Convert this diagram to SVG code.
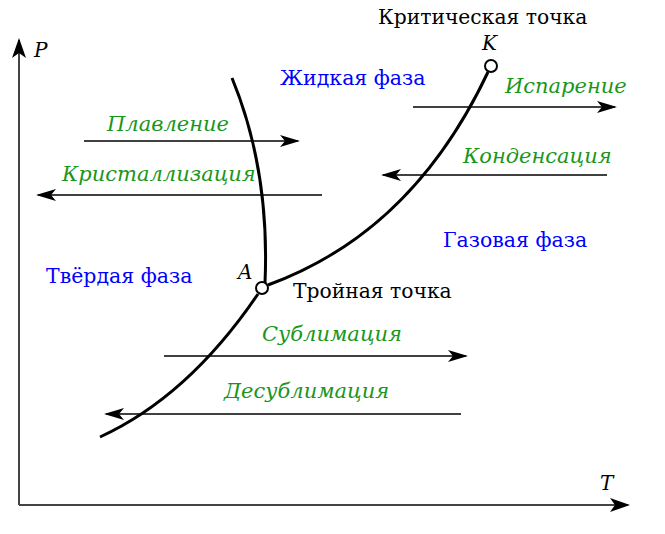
<svg xmlns="http://www.w3.org/2000/svg" width="665" height="534" viewBox="0 0 665 534">
<style>
.ax{stroke:#444;stroke-width:2;fill:none}
.cv{stroke:#000;stroke-width:3;fill:none}
.ar{stroke:#000;stroke-width:1.6;fill:none}
.pt{fill:#fff;stroke:#000;stroke-width:2}
.ph{font-family:"DejaVu Serif",serif;font-size:20.5px;fill:#0000ff}
.pr{font-family:"DejaVu Serif",serif;font-style:italic;font-size:21px;fill:#1a961a}
.lb{font-family:"DejaVu Serif",serif;font-size:20.3px;fill:#000}
.it{font-family:"DejaVu Serif",serif;font-style:italic;font-size:20px;fill:#000}
</style>
<defs>
<marker id="ah" viewBox="0 0 20 12" refX="18" refY="6" markerWidth="20" markerHeight="12" markerUnits="userSpaceOnUse" orient="auto">
<path d="M0,0 L20,6 L0,12 L5,6 Z" fill="#000"/>
</marker>
<marker id="axh" viewBox="0 0 20 14" refX="18" refY="7" markerWidth="20" markerHeight="14" markerUnits="userSpaceOnUse" orient="auto">
<path d="M0,0 L20,7 L0,14 L5,7 Z" fill="#000"/>
</marker>
</defs>
<g id="axes">
<path class="ax" d="M19,505 V40" marker-end="url(#axh)"/>
<path class="ax" d="M19,505 H628" marker-end="url(#axh)"/>
<text class="it" x="34" y="57">P</text>
<text class="it" x="600" y="490">T</text>
</g>
<g id="curves">
<path class="cv" d="M232,78 Q270,170 265,283"/>
<path class="cv" d="M268,285 C350,255 430,195 488,72"/>
<path class="cv" d="M258,294 C220,350 170,405 100,437"/>
</g>
<g id="connectors">
<path class="ar" d="M84,141 H298" marker-end="url(#ah)"/>
<path class="ar" d="M322,195 H38" marker-end="url(#ah)"/>
<path class="ar" d="M413,107 H615" marker-end="url(#ah)"/>
<path class="ar" d="M607,175 H383" marker-end="url(#ah)"/>
<path class="ar" d="M164,356 H466" marker-end="url(#ah)"/>
<path class="ar" d="M461,414 H106" marker-end="url(#ah)"/>
</g>
<g id="triple-point">
<circle class="pt" cx="262" cy="288" r="6"/>
<text class="it" x="238" y="279">A</text>
<text class="lb" x="293" y="298">Тройная точка</text>
</g>
<g id="critical-point">
<circle class="pt" cx="491" cy="66" r="6"/>
<text class="it" x="482" y="50">K</text>
<text class="lb" x="378" y="24">Критическая точка</text>
</g>
<g id="liquid"><text class="ph" x="280" y="85">Жидкая фаза</text></g>
<g id="gas"><text class="ph" x="443" y="247">Газовая фаза</text></g>
<g id="solid"><text class="ph" x="46" y="283">Твёрдая фаза</text></g>
<g id="melting"><text class="pr" x="107" y="131">Плавление</text></g>
<g id="crystallization"><text class="pr" x="62" y="181">Кристаллизация</text></g>
<g id="evaporation"><text class="pr" x="505" y="93">Испарение</text></g>
<g id="condensation"><text class="pr" x="463" y="163">Конденсация</text></g>
<g id="sublimation"><text class="pr" x="262" y="341">Сублимация</text></g>
<g id="desublimation"><text class="pr" x="224" y="398">Десублимация</text></g>
</svg>
